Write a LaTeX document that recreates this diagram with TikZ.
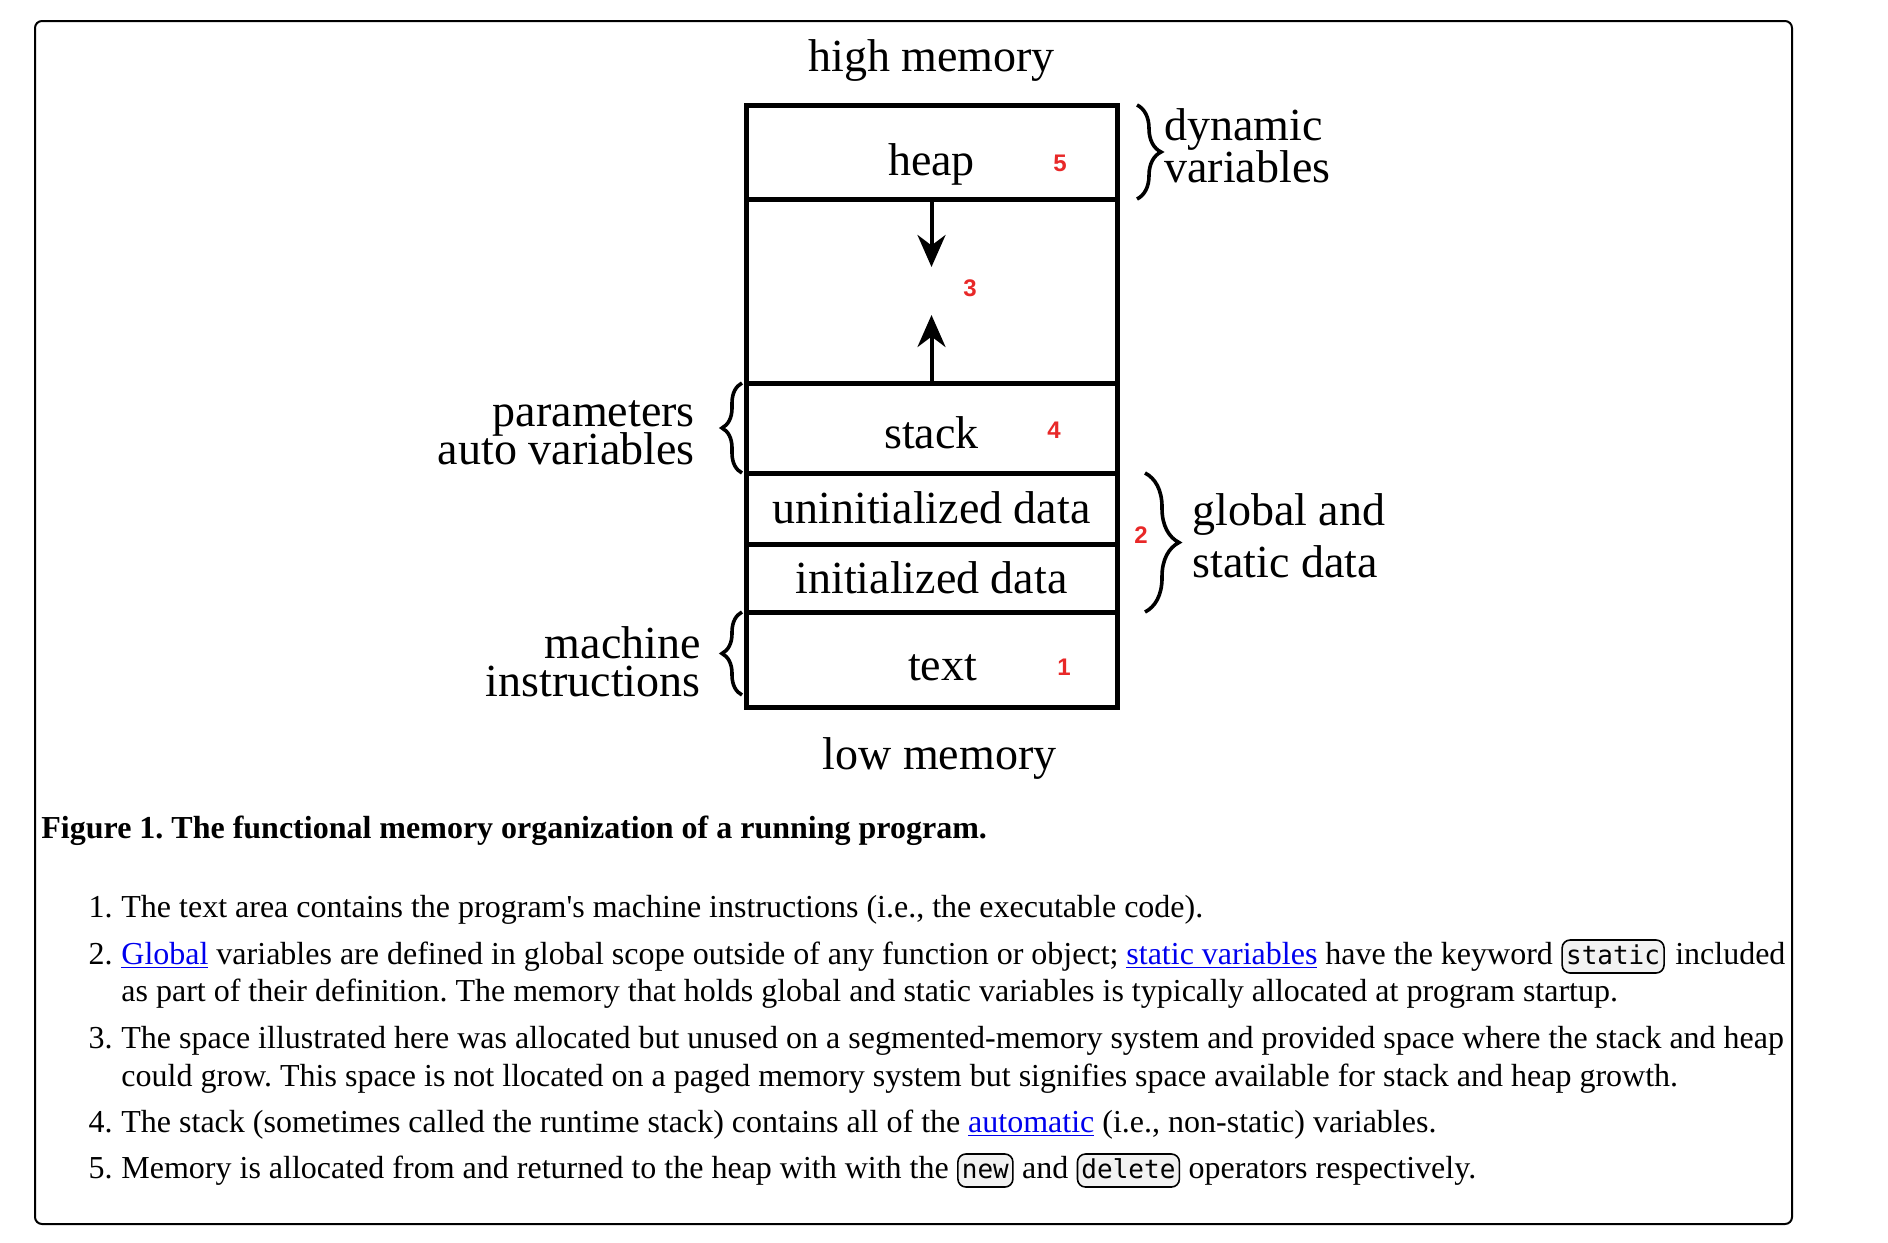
\documentclass[tikz,border=0pt]{standalone}
\usepackage{fontspec}
\setmainfont{Liberation Serif}
\newfontfamily\codefont{DejaVu Sans Mono}
\newfontfamily\notefont{Liberation Sans}
\usetikzlibrary{arrows.meta,positioning,decorations.pathreplacing}
\definecolor{linkblue}{RGB}{0,0,238}
\definecolor{notered}{RGB}{232,40,40}
\definecolor{codegray}{RGB}{242,242,242}
\newcommand\weblink[1]{{\color{linkblue}\underline{#1}}}
\frenchspacing
\setlength{\lineskiplimit}{-30pt}

\begin{document}
\begin{tikzpicture}[x=1pt, y=-1pt,
    seg/.style={rectangle, draw, line width=2.5pt, outer sep=0pt, minimum width=185.5pt, text height=15pt, text depth=0pt, font=\fontsize{23}{23}\selectfont},
    side/.style={inner sep=0pt, font=\fontsize{23}{19}\selectfont},
    note/.style={inner sep=0pt, text=notered, font=\notefont\bfseries\fontsize{12}{12}\selectfont},
    growth/.style={line width=2pt, -{Stealth[length=16pt, width=14pt]}},
    curly/.style={decorate, line width=1.8pt},
    item/.style={anchor=base west, inner sep=0pt, font=\fontsize{16}{18.5}\selectfont},
    itemno/.style={anchor=base east, inner sep=0pt, font=\fontsize{16}{18.5}\selectfont},
    kw/.style={draw, fill=codegray, rounded corners=4pt, line width=0.8pt, inner xsep=2pt, inner ysep=2pt, text height=10pt, text depth=2.5pt, font=\codefont\fontsize{13}{13}\selectfont}
]
\useasboundingbox (0,0) rectangle (944,621);
\draw[line width=1pt, rounded corners=3.5pt] (17.5,10.5) rectangle (896,612);

% memory layout
\node[seg, minimum height=47pt, text height=23pt] (heap) at (465.75,76) {heap};
\node[seg, minimum height=92pt, below=0pt of heap] (gap) {};
\node[seg, minimum height=45pt, text height=20pt, below=0pt of gap] (stack) {stack};
\node[seg, minimum height=35.5pt, below=0pt of stack] (bss) {uninitialized data};
\node[seg, minimum height=34pt, below=0pt of bss] (data) {initialized data};
\node[seg, minimum height=47.5pt, text height=21pt, below=0pt of data] (textseg) {\hspace*{11pt}text};

\node[side, above=11.5pt of heap] (himem) {high memory};
\node[side, below=15pt of textseg, xshift=4pt] (lomem) {low memory};

\coordinate[below=34pt of heap.south] (heaptip);
\coordinate[above=34pt of stack.north] (stacktip);
\draw[growth] (heap.south) -- (heaptip);
\draw[growth] (stack.north) -- (stacktip);

\node[note] (n5) at (530,81.5) {5};
\node[note] (n3) at (485,144) {3};
\node[note] (n4) at (527,215) {4};
\node[note] (n2) at (570.5,267.5) {2};
\node[note] (n1) at (532,333.5) {1};

% braces and side labels
\draw[curly, decoration={brace, amplitude=12pt}] ([xshift=10pt]heap.north east) -- ([xshift=10pt]heap.south east);
\draw[curly, decoration={brace, amplitude=17pt}] ([xshift=14pt]bss.north east) -- ([xshift=14pt]data.south east);
\draw[curly, decoration={brace, amplitude=10pt}] ([xshift=-2pt]stack.south west) -- ([xshift=-2pt]stack.north west);
\draw[curly, decoration={brace, amplitude=10pt}] ([xshift=-2pt,yshift=6pt]textseg.south west) -- ([xshift=-2pt]textseg.north west);

\node[side, align=left, anchor=west, font=\fontsize{23}{21}\selectfont] (dynlbl) at ([xshift=23.5pt,yshift=3pt]heap.east) {dynamic\\variables};
\node[side, align=right, anchor=east] (parlbl) at ([xshift=-25.5pt,yshift=-2.5pt]stack.west) {parameters\\auto variables};
\node[side, align=left, anchor=west, font=\fontsize{23}{26}\selectfont] (gsdlbl) at ([xshift=37.5pt,yshift=4pt]data.north east) {global and\\static data};
\node[side, align=right, anchor=east] (mchlbl) at ([xshift=-22.5pt,yshift=-1pt]textseg.west) {machine\\instructions};

% caption and notes
\node[item, font=\fontsize{16}{18.5}\selectfont\bfseries] (caption) at (20.5,419) {Figure 1. The functional memory organization of a running program.};

\node[itemno] (no1) at (56.5,458.5) {1.};
\node[item] (it1) at (60.5,458.5) {The text area contains the program\textquotesingle s machine instructions (i.e., the executable code).};

\node[itemno] (no2) at (56.5,482) {2.};
\node[item] (it2a) at (60.5,482) {\weblink{Global} variables are defined in global scope outside of any function or object; \weblink{static variables} have the keyword};
\node[kw, base right=4pt of it2a] (kwstatic) {static};
\node[item, base right=5pt of kwstatic] (it2b) {included};
\node[item] (it2c) at (60.5,500.5) {as part of their definition. The memory that holds global and static variables is typically allocated at program startup.};

\node[itemno] (no3) at (56.5,524) {3.};
\node[item] (it3a) at (60.5,524) {The space illustrated here was allocated but unused on a segmented-memory system and provided space where the stack and heap};
\node[item] (it3b) at (60.5,543) {could grow. This space is not llocated on a paged memory system but signifies space available for stack and heap growth.};

\node[itemno] (no4) at (56.5,566) {4.};
\node[item] (it4) at (60.5,566) {The stack (sometimes called the runtime stack) contains all of the \weblink{automatic} (i.e., non-static) variables.};

\node[itemno] (no5) at (56.5,589) {5.};
\node[item] (it5a) at (60.5,589) {Memory is allocated from and returned to the heap with with the};
\node[kw, base right=4pt of it5a] (kwnew) {new};
\node[item, base right=4pt of kwnew] (it5b) {and};
\node[kw, base right=4pt of it5b] (kwdel) {delete};
\node[item, base right=4pt of kwdel] (it5c) {operators respectively.};
\end{tikzpicture}
\end{document}
